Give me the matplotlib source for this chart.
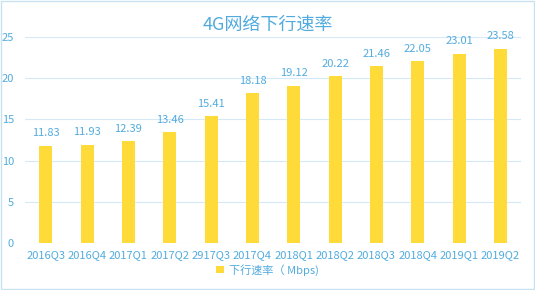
import matplotlib
matplotlib.use('Agg')
import matplotlib.pyplot as plt
from matplotlib.patches import Rectangle

plt.rcParams['font.family'] = ['Noto Sans CJK SC', 'DejaVu Sans']

# Données
quarters = ['2016Q3', '2016Q4', '2017Q1', '2017Q2', '2917Q3', '2017Q4',
            '2018Q1', '2018Q2', '2018Q3', '2018Q4', '2019Q1', '2019Q2']
speeds = [11.83, 11.93, 12.39, 13.46, 15.41, 18.18,
          19.12, 20.22, 21.46, 22.05, 23.01, 23.58]
yticks = [0, 5, 10, 15, 20, 25]

text_color = '#52ABDE'
bar_color = '#FFDB3A'
grid_color = '#D6E9F6'

fig = plt.figure(figsize=(5.35, 2.9), dpi=100)
ax = fig.add_axes([0.047, 0.162, 0.927, 0.710])

x = range(len(quarters))
bars = ax.bar(x, speeds, width=0.31, color=bar_color, zorder=3,
              label='下行速率（ Mbps)')

# Étiquettes de valeur
for xi, v in zip(x, speeds):
    ax.text(xi, v + 0.9, f'{v:.2f}', ha='center', va='bottom',
            color=text_color, fontsize=8)

ax.set_xlim(-0.5, len(quarters) - 0.5)
ax.set_ylim(0, 25)
ax.set_yticks(yticks)
ax.set_xticks(list(x))
ax.set_xticklabels(quarters)
ax.tick_params(axis='both', length=0, colors=text_color, labelsize=8)
ax.tick_params(axis='x', pad=5)
ax.tick_params(axis='y', pad=8)
ax.grid(axis='y', color=grid_color, linewidth=0.8, zorder=0)
for s in ax.spines.values():
    s.set_visible(False)

fig.suptitle('4G网络下行速率', x=0.5, y=0.945, color=text_color, fontsize=13)

leg = fig.legend(loc='center', bbox_to_anchor=(0.5, 0.07), frameon=False,
                 fontsize=8, handlelength=0.7, handleheight=0.7,
                 handletextpad=0.4)
for t in leg.get_texts():
    t.set_color(text_color)

# Cadre de la figure
fig.patches.append(Rectangle((0.002, 0.004), 0.996, 0.992, transform=fig.transFigure,
                             fill=False, edgecolor='#C8E1F2', linewidth=1))

fig.savefig('out.png', dpi=100)
